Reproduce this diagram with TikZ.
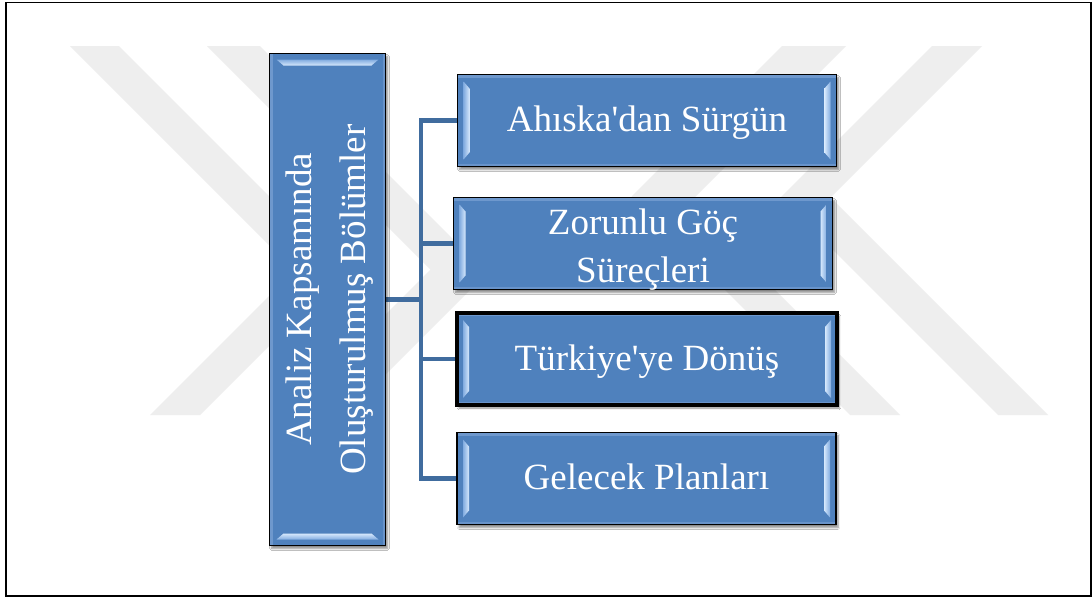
\documentclass[tikz,border=0pt]{standalone}
\usepackage{fontspec}
\setmainfont{Liberation Serif}[Ligatures=TeXOff]
\usetikzlibrary{shadows.blur,calc}
\definecolor{boxblue}{RGB}{79,129,189}
\definecolor{connblue}{RGB}{64,108,158}
\definecolor{wm}{RGB}{238,238,238}
\definecolor{bevlight}{RGB}{214,232,252}
\definecolor{bevmid}{RGB}{130,172,224}
\definecolor{edgelight}{RGB}{110,152,205}
\pgfdeclarelayer{bg}
\pgfsetlayers{bg,main}
\newcommand\onetext[1]{\raisebox{0pt}[40pt][18pt]{#1}}
\newcommand\twotext[2]{\raisebox{0pt}[36pt][55pt]{\begin{tabular}[t]{@{}c@{}}#1\\#2\end{tabular}}}
\begin{document}
\begin{tikzpicture}[x=1pt,y=-1pt,
  hbevel/.style={path picture={
    \path (path picture bounding box.north west) coordinate (nw)
          (path picture bounding box.south east) coordinate (se);
    \fill[edgelight] (nw) rectangle ($(se |- nw)+(0,-3pt)$);
    \fill[edgelight!80!boxblue] ($(nw |- se)+(0,3pt)$) rectangle (se);
    \shade[left color=bevmid, right color=bevlight]
      ($(nw)+(6pt,-7pt)$) -- ($(nw)+(12pt,-14pt)$) -- ($(nw |- se)+(12pt,14pt)$) -- ($(nw |- se)+(6pt,7pt)$) -- cycle;
    \shade[left color=bevlight, right color=bevmid]
      ($(se |- nw)+(-6pt,-7pt)$) -- ($(se |- nw)+(-12pt,-14pt)$) -- ($(se)+(-12pt,14pt)$) -- ($(se)+(-6pt,7pt)$) -- cycle;
  }},
  vbevel/.style={path picture={
    \path (path picture bounding box.north west) coordinate (nw)
          (path picture bounding box.south east) coordinate (se);
    \fill[edgelight] (nw) rectangle ($(nw |- se)+(3pt,0)$);
    \fill[edgelight!80!boxblue] ($(se |- nw)+(-3pt,0)$) rectangle (se);
    \shade[top color=bevmid, bottom color=bevlight]
      ($(nw)+(7pt,-6pt)$) -- ($(se |- nw)+(-7pt,-6pt)$) -- ($(se |- nw)+(-14pt,-12pt)$) -- ($(nw)+(14pt,-12pt)$) -- cycle;
    \shade[top color=bevlight, bottom color=bevmid]
      ($(nw |- se)+(7pt,6pt)$) -- ($(se)+(-7pt,6pt)$) -- ($(se)+(-14pt,12pt)$) -- ($(nw |- se)+(14pt,12pt)$) -- cycle;
  }},
  boxbase/.style={draw=black, line width=1.3pt, fill=boxblue, rectangle,
    inner sep=0pt, outer sep=0pt, text=white,
    blur shadow={shadow xshift=2pt, shadow yshift=-3pt, shadow blur steps=6, shadow opacity=45}},
  box/.style={boxbase, hbevel, font=\fontsize{37}{48}\selectfont,
    minimum width=379pt, minimum height=92pt},
  mainbox/.style={boxbase, vbevel, font=\fontsize{37}{54}\selectfont,
    minimum width=116pt, minimum height=492pt},
  conn/.style={draw=connblue, line width=4.5pt, line join=miter},
  wmark/.style={fill=wm}
]
\useasboundingbox (0,0) rectangle (1092,598);

% nodes
\node[mainbox] (main) at (327.5,299.5)
  {\makebox[0pt][c]{\rotatebox{90}{\begin{tabular}{@{}c@{}}Analiz Kapsamında\\Oluşturulmuş Bölümler\end{tabular}}}};
\coordinate (trunk) at (421,299.5);

\node[box] (b1) at (647,120.5) {\onetext{Ahıska'dan Sürgün}};
\node[box] (b2) at (643,243.5) {\twotext{Zorunlu Göç}{Süreçleri}};
\node[box, line width=3.5pt, minimum width=380pt, minimum height=92pt] (b3) at (647,359) {\onetext{Türkiye'ye Dönüş}};
\node[box] (b4) at (646.5,478.5) {\onetext{Gelecek Planları}};

\begin{pgfonlayer}{bg}
\fill[white] (0,0) rectangle (1092,598);
% watermark
\fill[wmark] (70,46) -- (119,46) -- (344,271) -- (200,415) -- (150,415) -- (294.5,270.5) -- cycle;
\fill[wmark] (207,46) -- (260,46) -- (487,273) -- (345,415) -- (285,415) -- (430.5,269.5) -- cycle;
\fill[wmark] (782,46) -- (846,46) -- (688.5,203.5) -- (900,415) -- (850,415) -- (631.5,196.5) -- cycle;
\fill[wmark] (932,46) -- (982,46) -- (830.5,197.5) -- (1048,415) -- (998,415) -- (780.5,197.5) -- cycle;
% outer frame
\draw[line width=1.5pt] (6,2.5) rectangle (1091,596);
% connectors
\draw[conn] (main.east) -- (trunk);
\draw[conn] (b1.west) -- (b1.west -| trunk) -- (b4.west -| trunk) -- (b4.west);
\draw[conn] (b2.west) -- (b2.west -| trunk);
\draw[conn] (b3.west) -- (b3.west -| trunk);
\end{pgfonlayer}
\end{tikzpicture}
\end{document}
